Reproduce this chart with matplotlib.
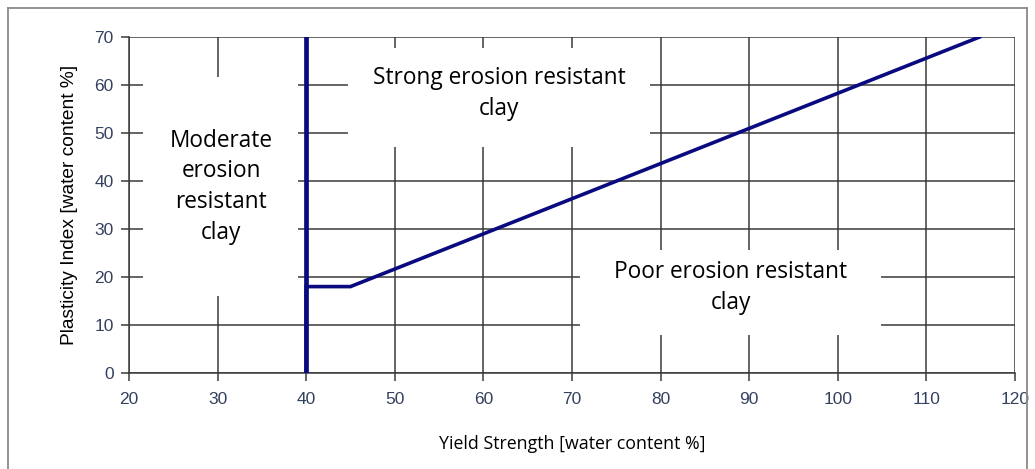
import matplotlib.pyplot as plt
from matplotlib.patches import Rectangle
from matplotlib.lines import Line2D

# boundary line: vertical at 40, step at 18, then sloped up to 70
bound_x = [40, 40, 45, 116]
bound_y = [0, 18, 18, 70]

x_ticks = [20, 30, 40, 50, 60, 70, 80, 90, 100, 110, 120]
y_ticks = [0, 10, 20, 30, 40, 50, 60, 70]

# region labels: text, centre (x, y), white box (x0, y0, x1, y1)
labels = [
    ("Moderate\nerosion\nresistant\nclay", (30.4, 38.8), (21.6, 16.0, 39.1, 61.7)),
    ("Strong erosion resistant\nclay", (61.8, 58.3), (44.7, 47.1, 78.8, 67.7)),
    ("Poor erosion resistant\nclay", (87.9, 17.8), (70.9, 7.9, 104.9, 25.6)),
]

fig = plt.figure(figsize=(10.35, 4.69), dpi=100)
ax = fig.add_axes([0.1246, 0.2047, 0.8561, 0.7164])

ax.set_xlim(20, 120)
ax.set_ylim(0, 70)
ax.set_xticks(x_ticks)
ax.set_yticks(y_ticks)
ax.grid(True, color='#3a3a3a', linewidth=1.1, zorder=1)
for s in ['top', 'right']:
    ax.spines[s].set_visible(False)
for s in ['left', 'bottom']:
    ax.spines[s].set_color('#3a3a3a')
    ax.spines[s].set_linewidth(1.1)
ax.tick_params(length=6, width=1.1, color='#3a3a3a', labelsize=12.5,
               labelcolor='#34415e', pad=5)
ax.tick_params(axis='x', pad=8)
for lab in ax.get_xticklabels() + ax.get_yticklabels():
    lab.set_family('Liberation Sans')

for text, (tx, ty), (x0, y0, x1, y1) in labels:
    ax.add_patch(Rectangle((x0, y0), x1 - x0, y1 - y0, facecolor='white',
                           edgecolor='none', zorder=2))
    ax.text(tx, ty, text, ha='center', va='center', fontsize=16.3,
            family='Open Sans', color='black', linespacing=1.38, zorder=4)

ax.plot(bound_x, bound_y, color='#0a0a80', linewidth=2.6, zorder=3,
        solid_joinstyle='miter')
ax.plot([40, 40], [0, 70], color='#0a0a80', linewidth=3.4, zorder=3)

ax.set_xlabel('Yield Strength [water content %]', fontsize=12.8,
              family='Open Sans', labelpad=20)
ax.set_ylabel('Plasticity Index [water content %]', fontsize=13.8,
              family='Liberation Sans', labelpad=12)

# screenshot frame
fig.add_artist(Line2D([8 / 1035, 8 / 1035], [0, 1 - 8 / 469],
                      color='#8a8a8a', linewidth=1.3))
fig.add_artist(Line2D([8 / 1035, 1027 / 1035], [1 - 8 / 469, 1 - 8 / 469],
                      color='#8a8a8a', linewidth=1.3))
fig.add_artist(Line2D([1027 / 1035, 1027 / 1035], [0, 1 - 8 / 469],
                      color='#8a8a8a', linewidth=1.3))

fig.savefig('out.png', dpi=100)
